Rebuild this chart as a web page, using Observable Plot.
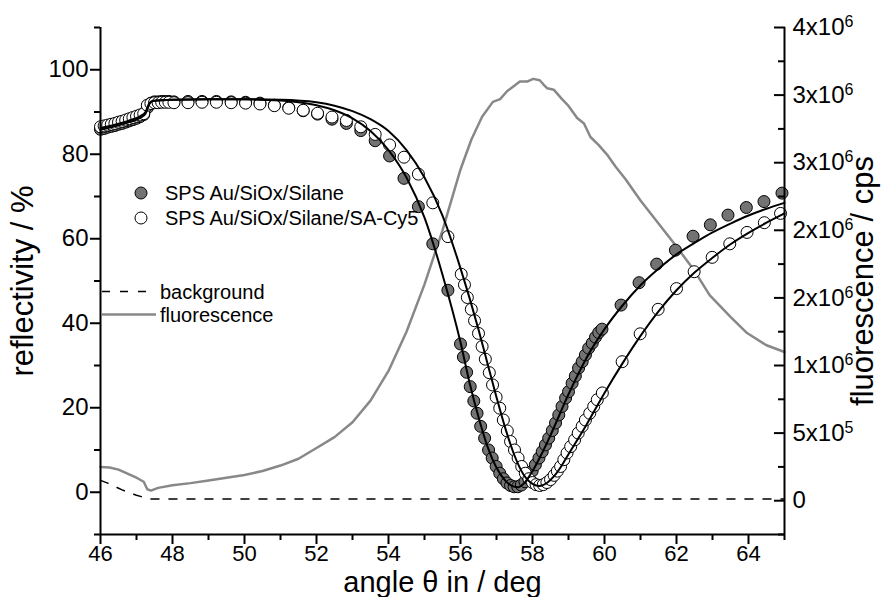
<!DOCTYPE html>
<html>
<head>
<meta charset="utf-8">
<script src="https://cdn.jsdelivr.net/npm/d3@7"></script>
<script src="https://cdn.jsdelivr.net/npm/@observablehq/plot@0.6"></script>
<style>
  html, body { margin: 0; padding: 0; background: #fff; }
  #chart { position: relative; width: 884px; height: 597px; }
</style>
</head>
<body>
<div id="chart"></div>
<script>
// ---------- data ----------
// SPS Au/SiOx/Silane (filled circles): angle (deg), reflectivity (%)
const filledX = [46.0,46.1,46.2,46.3,46.4,46.5,46.6,46.7,46.8,46.9,47.0,47.1,47.2,47.3,47.4,47.5,47.6,47.7,47.8,47.9,
  48.04,48.43,48.82,49.22,49.63,50.03,50.43,50.83,51.23,51.63,52.03,52.43,52.83,53.23,53.63,54.03,54.43,54.83,55.23,55.65,
  56.0,56.08,56.17,56.27,56.37,56.46,56.56,56.67,56.78,56.88,56.99,57.09,57.19,57.29,57.39,57.49,57.59,57.69,57.79,57.89,57.99,
  58.08,58.18,58.27,58.36,58.45,58.55,58.64,58.73,58.82,58.92,59.0,59.1,59.19,59.28,59.38,59.47,59.56,59.66,59.75,59.84,59.93,
  60.46,60.96,61.45,61.97,62.46,62.94,63.43,63.94,64.43,64.93];
const filledY = [85.9,86.1,86.4,86.6,86.8,87.1,87.3,87.6,87.9,88.2,88.5,88.9,89.4,91.0,92.1,92.4,92.4,92.5,92.5,92.5,
  92.4,92.5,92.5,92.5,92.4,92.3,92.1,91.6,91.0,90.3,89.5,88.3,87.3,85.6,83.2,79.6,74.3,67.6,58.8,47.8,
  35.1,32.0,28.4,25.0,21.6,18.7,15.6,12.8,10.0,8.1,6.1,4.5,3.2,2.2,1.6,1.3,1.3,1.7,2.5,3.6,5.0,
  6.5,8.1,9.6,11.2,12.8,14.6,16.4,18.3,20.3,22.3,23.8,25.8,27.5,29.4,30.9,32.5,34.1,35.3,36.7,37.8,38.6,
  44.3,49.6,54.0,57.3,60.6,63.3,65.6,67.4,68.8,70.8];

// SPS Au/SiOx/Silane/SA-Cy5 (open circles)
const openX = [46.0,46.1,46.2,46.3,46.4,46.5,46.6,46.7,46.8,46.9,47.0,47.1,47.2,47.3,47.4,47.5,47.6,47.7,47.8,47.9,
  48.04,48.43,48.82,49.22,49.63,50.03,50.43,50.83,51.23,51.63,52.03,52.43,52.83,53.23,53.63,54.03,54.43,54.83,55.23,55.65,
  56.02,56.11,56.19,56.3,56.39,56.5,56.6,56.69,56.8,56.89,56.99,57.09,57.19,57.3,57.39,57.5,57.6,57.7,57.8,57.9,58.0,
  58.1,58.2,58.3,58.4,58.5,58.6,58.69,58.78,58.87,58.96,59.06,59.17,59.27,59.38,59.47,59.59,59.7,59.8,59.94,
  60.49,60.99,61.49,62.0,62.49,62.99,63.48,63.96,64.44,64.89];
const openY = [86.5,86.7,86.9,87.1,87.3,87.6,87.8,88.1,88.4,88.7,89.0,89.3,89.6,91.6,92.0,92.2,92.2,92.3,92.3,92.3,
  92.2,92.2,92.3,92.3,92.2,92.1,91.9,91.5,90.9,90.4,89.7,88.8,88.0,86.5,84.7,82.2,79.3,75.3,68.5,60.5,
  51.6,49.1,46.1,43.3,40.6,37.6,34.5,31.5,28.3,25.4,22.5,19.9,17.1,14.5,12.0,10.0,8.1,6.1,4.5,3.2,2.3,
  1.8,1.6,1.8,2.3,3.0,4.0,5.0,6.1,7.7,9.3,10.8,12.4,14.0,15.6,17.1,18.7,20.3,21.9,23.5,
  30.9,37.5,43.3,48.2,52.2,55.6,58.8,61.5,63.8,66.0];

// fit curves (solid black)
const fitFilledX = [46.0,46.4,46.8,47.1,47.25,47.35,47.45,48.0,49.0,50.0,51.0,51.5,52.0,52.5,53.0,53.5,54.0,54.5,55.0,55.5,56.0,56.25,56.5,56.75,57.0,57.25,57.5,57.6,57.75,58.0,58.25,58.5,59.0,59.5,60.0,60.5,61.0,61.5,62.0,62.5,63.0,63.5,64.0,64.5,65.0];
const fitFilledY = [85.8,86.6,87.6,88.6,89.6,91.8,92.6,92.9,93.0,93.0,92.7,92.3,91.6,90.4,88.5,85.5,81.0,74.5,65.0,51.5,35.5,26.0,17.8,10.8,5.8,2.7,1.3,1.2,2.0,5.0,9.0,13.5,23.2,31.8,38.6,44.2,49.0,52.9,56.3,59.0,61.5,63.6,65.5,67.1,68.5];
const fitOpenX = [46.0,46.4,46.8,47.1,47.25,47.35,47.45,48.0,49.0,50.0,51.0,52.0,52.5,53.0,53.5,54.0,54.5,55.0,55.5,56.0,56.25,56.5,56.75,57.0,57.25,57.5,57.75,58.0,58.2,58.4,58.6,58.75,59.0,59.5,60.0,60.5,61.0,61.5,62.0,62.5,63.0,63.5,64.0,64.5,65.0];
const fitOpenY = [86.2,87.0,88.0,89.0,90.0,92.0,92.6,92.9,93.0,93.0,92.9,92.3,91.5,90.2,88.3,85.5,81.0,74.5,65.5,53.0,46.0,38.5,30.5,22.5,15.0,8.7,4.2,2.0,1.5,2.2,3.8,5.5,9.0,16.0,23.5,30.5,37.0,42.8,47.8,52.0,55.5,58.7,61.4,63.8,66.0];

// fluorescence (cps, in units of 1e6) — right axis
const fluorX = [46.0,46.25,46.5,46.75,47.0,47.2,47.3,47.4,47.6,48.0,48.5,49.0,49.5,50.0,50.5,51.0,51.5,52.0,52.5,53.0,53.5,54.0,54.5,55.0,55.5,56.0,56.3,56.6,56.9,57.1,57.3,57.45,57.65,57.85,58.02,58.2,58.3,58.41,58.59,58.82,59.0,59.24,59.43,59.61,59.84,60.07,60.31,60.58,61.0,61.5,62.0,62.5,62.92,63.5,63.96,64.5,65.0];
const fluorY = [0.25,0.245,0.23,0.2,0.17,0.14,0.085,0.075,0.095,0.115,0.13,0.15,0.17,0.19,0.22,0.26,0.31,0.39,0.47,0.58,0.74,0.96,1.25,1.6,2.0,2.45,2.67,2.84,2.95,2.97,3.03,3.06,3.10,3.10,3.12,3.11,3.08,3.05,3.04,2.97,2.92,2.83,2.79,2.69,2.63,2.56,2.47,2.38,2.22,2.05,1.88,1.70,1.52,1.36,1.24,1.15,1.10];

// background (cps, in units of 1e6) — right axis
const bgX = [46.0,46.2,46.4,46.6,46.8,47.0,47.2,47.35,48.0,50.0,55.0,60.0,65.0];
const bgY = [0.15,0.13,0.105,0.08,0.06,0.04,0.025,0.012,0.012,0.012,0.012,0.012,0.012];

// ticks
const xMajorTicks = [46,48,50,52,54,56,58,60,62,64];
const xMinorTicks = [47,49,51,53,55,57,59,61,63,65];
const yMajorTicks = [0,20,40,60,80,100];
const yMinorTicks = [-10,10,30,50,70,90,110];
const rightMajorTicks = [0,0.5e6,1e6,1.5e6,2e6,2.5e6,3e6,3.5e6];
const rightTickLabels = ["0","5x10^5","1x10^6","2x10^6","2x10^6","3x10^6","3x10^6","4x10^6"];
const rightMinorTicks = [-0.25e6,0.25e6,0.75e6,1.25e6,1.75e6,2.25e6,2.75e6,3.25e6];

const xTitle = "angle \u03b8 in / deg";
const yTitle = "reflectivity / %";
const y2Title = "fluorescence / cps";
const legendLabels = ["SPS Au/SiOx/Silane", "SPS Au/SiOx/Silane/SA-Cy5", "background", "fluorescence"];

// ---------- build ----------
const yDomain = [-10, 110];
const fDomain = [-0.25e6, 3.5e6];
const toRefl = f => yDomain[0] + (f - fDomain[0]) / (fDomain[1] - fDomain[0]) * (yDomain[1] - yDomain[0]);

const zip = (xs, ys) => xs.map((x, i) => ({x, y: ys[i]}));
const filled = zip(filledX, filledY);
const open = zip(openX, openY);
const fitF = zip(fitFilledX, fitFilledY);
const fitO = zip(fitOpenX, fitOpenY);
const fluor = fluorX.map((x, i) => ({x, y: toRefl(fluorY[i] * 1e6)}));
const bg = bgX.map((x, i) => ({x, y: toRefl(bgY[i] * 1e6)}));

const rightMajorPos = rightMajorTicks.map(toRefl);
const rightLabelMap = new Map(rightMajorPos.map((p, i) => [p, rightTickLabels[i]]));

const FONT = "'Liberation Sans', Arial, Helvetica, sans-serif";
const AX = 2;
const TICKFONT = 24;

const chart = Plot.plot({
  width: 884,
  height: 597,
  marginTop: 27,
  marginRight: 100,
  marginBottom: 63,
  marginLeft: 100,
  style: {fontFamily: FONT, background: "white", color: "black", overflow: "visible"},
  x: {domain: [46, 65]},
  y: {domain: yDomain},
  marks: [
    Plot.line(fluor, {x: "x", y: "y", stroke: "#888888", strokeWidth: 2.5}),
    Plot.line(bg, {x: "x", y: "y", stroke: "black", strokeWidth: 1.5, strokeDasharray: "8,10"}),
    Plot.dot(filled, {x: "x", y: "y", r: 6, fill: "#737373", stroke: "black", strokeWidth: 1}),
    Plot.dot(open, {x: "x", y: "y", r: 6, fill: "white", stroke: "black", strokeWidth: 1}),
    Plot.line(fitF, {x: "x", y: "y", stroke: "black", strokeWidth: 2, curve: "monotone-x"}),
    Plot.line(fitO, {x: "x", y: "y", stroke: "black", strokeWidth: 2, curve: "monotone-x"}),
    // bottom axis
    Plot.axisX(xMajorTicks, {tickSize: 10, tickPadding: 1, fontSize: 22, strokeWidth: AX, label: null}),
    Plot.axisX(xMinorTicks, {tickSize: 6, tickFormat: () => "", strokeWidth: AX, label: null}),
    // left axis
    Plot.axisY(yMajorTicks, {anchor: "left", tickSize: 10, tickPadding: 2, fontSize: TICKFONT, strokeWidth: AX, label: null}),
    Plot.axisY(yMinorTicks, {anchor: "left", tickSize: 6, tickFormat: () => "", strokeWidth: AX, label: null}),
    // right axis (ticks point inward)
    Plot.axisY(rightMajorPos, {anchor: "right", tickSize: -11, tickFormat: () => "", strokeWidth: AX, label: null}),
    Plot.axisY(rightMinorTicks.map(toRefl), {anchor: "right", tickSize: -7, tickFormat: () => "", strokeWidth: AX, label: null}),
    Plot.axisY(rightMajorPos, {anchor: "right", tickSize: 0, tickPadding: 8, fontSize: TICKFONT, label: null,
      tickFormat: d => rightLabelMap.get(d) ?? ""}),
    // frame lines
    Plot.ruleX([46], {strokeWidth: AX}),
    Plot.ruleX([65], {strokeWidth: AX}),
    Plot.ruleY([-10], {strokeWidth: AX}),
    // titles
    Plot.text([xTitle], {text: d => d, frameAnchor: "bottom", dy: 48, fontSize: 29, lineAnchor: "middle", textAnchor: "middle"}),
    Plot.text([yTitle], {text: d => d, frameAnchor: "left", dx: -77, rotate: -90, fontSize: 31, lineAnchor: "middle", textAnchor: "middle"}),
    Plot.text([y2Title], {text: d => d, frameAnchor: "right", dx: 79, rotate: -90, fontSize: 31, lineAnchor: "middle", textAnchor: "middle"})
  ]
});

document.getElementById("chart").appendChild(chart);

// superscripts on right tick labels ("3x10^6" -> 3x10 with raised 6)
d3.select(chart).selectAll("text").each(function() {
  const t = d3.select(this);
  const s = t.text();
  if (s.indexOf("^") < 0) return;
  const parts = s.split("^");
  t.text("");
  t.append("tspan").text(parts[0]);
  t.append("tspan").attr("dy", "-0.5em").attr("font-size", "16px").text(parts[1]);
});

// legend (inside plot area)
const svg = d3.select(chart);
const lg = svg.append("g").attr("font-family", FONT).attr("font-size", 20)
  .attr("fill", "black").attr("text-anchor", "start");
lg.append("circle").attr("cx", 141).attr("cy", 193).attr("r", 6).attr("fill", "#737373").attr("stroke", "black");
lg.append("text").attr("x", 165).attr("y", 193).attr("dy", "0.35em").text(legendLabels[0]);
lg.append("circle").attr("cx", 141).attr("cy", 218).attr("r", 6).attr("fill", "white").attr("stroke", "black");
lg.append("text").attr("x", 165).attr("y", 218).attr("dy", "0.35em").text(legendLabels[1]);
lg.append("line").attr("x1", 102).attr("x2", 150).attr("y1", 291.5).attr("y2", 291.5)
  .attr("stroke", "black").attr("stroke-width", 1.5).attr("stroke-dasharray", "8,10");
lg.append("text").attr("x", 160).attr("y", 291.5).attr("dy", "0.35em").text(legendLabels[2]);
lg.append("line").attr("x1", 102).attr("x2", 156).attr("y1", 314.5).attr("y2", 314.5)
  .attr("stroke", "#888888").attr("stroke-width", 2.5);
lg.append("text").attr("x", 160).attr("y", 314.5).attr("dy", "0.35em").text(legendLabels[3]);
</script>
</body>
</html>
